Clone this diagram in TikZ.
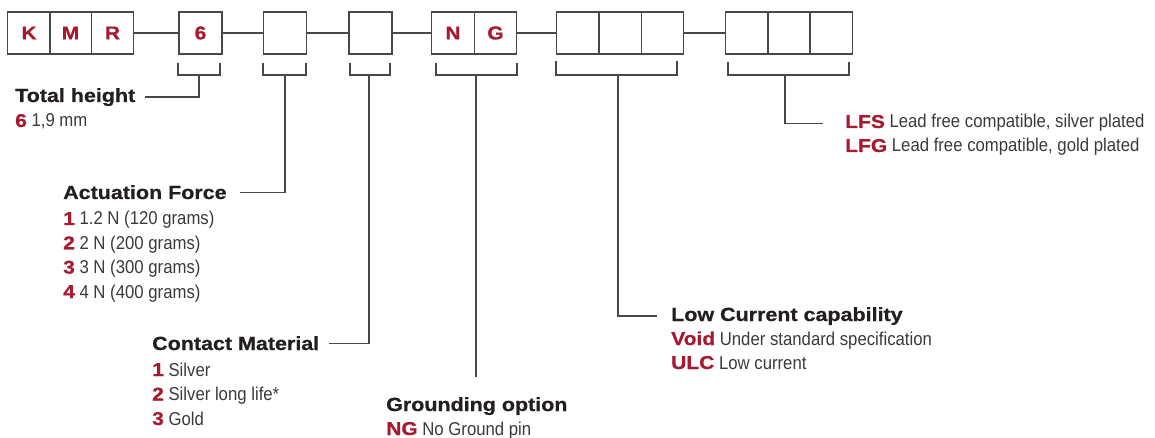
\documentclass[tikz,border=0pt]{standalone}
\usepackage{fontspec}
\setmainfont{Liberation Sans}
\newfontfamily\regf[FakeStretch=0.9]{Liberation Sans}
\newfontfamily\hvyf[FakeStretch=1.13,FakeBold=0.7]{Liberation Sans}
\definecolor{keyred}{RGB}{166,25,46}
\definecolor{ttl}{RGB}{35,31,32}
\definecolor{bodyc}{RGB}{58,58,58}
\definecolor{linec}{RGB}{72,72,72}
\tikzset{
 ln/.style={draw=linec, line width=1.3pt},
 cell/.style={draw=linec, line width=1.4pt, minimum width=42.5pt, minimum height=42pt, inner sep=0pt, font=\hvyf\bfseries\fontsize{18.6}{22}\selectfont, text=keyred},
 ttlnode/.style={inner sep=0pt, anchor=base west, font=\hvyf\bfseries\fontsize{19}{22}\selectfont, text=ttl},
 item/.style={inner sep=0pt, anchor=base west, font=\regf\fontsize{18.6}{22}\selectfont, text=bodyc},
}
\newcommand\kw[1]{{\hvyf\bfseries\color{keyred}#1}}
\begin{document}
\begin{tikzpicture}[x=1pt,y=-1pt]
\useasboundingbox (0,0) rectangle (1155,438);
% code boxes
\node[cell] (K) at (29,33) {K};
\node[cell] (M) at (70.5,33) {M};
\node[cell] (R) at (112.5,33) {R};
\node[cell, minimum width=43pt] (six) at (200.5,33) {6};
\node[cell, minimum width=43.5pt] (b3) at (285,33) {};
\node[cell, minimum width=43pt] (b4) at (370.5,33) {};
\node[cell] (N) at (453,33) {N};
\node[cell] (G) at (495.5,33) {G};
\node[cell] (L1) at (578,33) {};
\node[cell] (L2) at (620,33) {};
\node[cell] (L3) at (662.5,33) {};
\node[cell] (P1) at (747,33) {};
\node[cell] (P2) at (789,33) {};
\node[cell] (P3) at (831,33) {};
% joins
\draw[ln] (R.east) -- (six.west);
\draw[ln] (six.east) -- (b3.west);
\draw[ln] (b3.east) -- (b4.west);
\draw[ln] (b4.east) -- (N.west);
\draw[ln] (G.east) -- (L1.west);
\draw[ln] (L3.east) -- (P1.west);
% brackets
\draw[ln] (178,63) -- (178,75) -- (220,75) -- (220,63);
\draw[ln] (263,63) -- (263,75) -- (306,75) -- (306,63);
\draw[ln] (350,63) -- (350,75) -- (390,75) -- (390,63);
\draw[ln] (436,63) -- (436,75) -- (517,75) -- (517,63);
\draw[ln] (556,61) -- (556,75) -- (677,75) -- (677,61);
\draw[ln] (728,62) -- (728,75) -- (849,75) -- (849,62);
\coordinate (s6) at (199,75);
\coordinate (s3) at (285,75);
\coordinate (s4) at (369,75);
\coordinate (sNG) at (476,75);
\coordinate (sL) at (618,75);
\coordinate (sP) at (785,75);
% Total height
\node[ttlnode] (th) at (15,102) {Total height};
\node[item] (th1) at (15,127) {\kw{6} 1,9 mm};
\draw[ln] (s6) |- ([xshift=10pt]th.east);
% Actuation force
\node[ttlnode] (af) at (63,199) {Actuation Force};
\node[item] (af1) at (63,225) {\kw{1} 1.2 N (120 grams)};
\node[item] (af2) at (63,249.3) {\kw{2} 2 N (200 grams)};
\node[item] (af3) at (63,273.6) {\kw{3} 3 N (300 grams)};
\node[item] (af4) at (63,298) {\kw{4} 4 N (400 grams)};
\draw[ln] (s3) |- ([xshift=13pt]af.east);
% Contact material
\node[ttlnode] (cm) at (152,350) {Contact Material};
\node[item] (cm1) at (152,376) {\kw{1} Silver};
\node[item] (cm2) at (152,400.5) {\kw{2} Silver long life*};
\node[item] (cm3) at (152,425) {\kw{3} Gold};
\draw[ln] (s4) |- ([xshift=10pt]cm.east);
% Grounding
\node[ttlnode] (gr) at (386,411) {Grounding option};
\node[item] (gr1) at (386,435) {\kw{NG} No Ground pin};
\path (sNG |- gr.north) coordinate (gtop);
\draw[ln] (sNG) -- ([yshift=20pt]gtop);
% Low current
\node[ttlnode] (lc) at (671,321) {Low Current capability};
\node[item] (lc1) at (671,345) {\kw{Void} Under standard specification};
\node[item] (lc2) at (671,369) {\kw{ULC} Low current};
\draw[ln] (sL) |- ([xshift=-14pt]lc.west);
% Plating
\node[item] (lf1) at (845,128) {\kw{LFS} Lead free compatible, silver plated};
\node[item] (lf2) at (845,152) {\kw{LFG} Lead free compatible, gold plated};
\draw[ln] (sP) |- ([xshift=-22pt]lf1.west);
\end{tikzpicture}
\end{document}
